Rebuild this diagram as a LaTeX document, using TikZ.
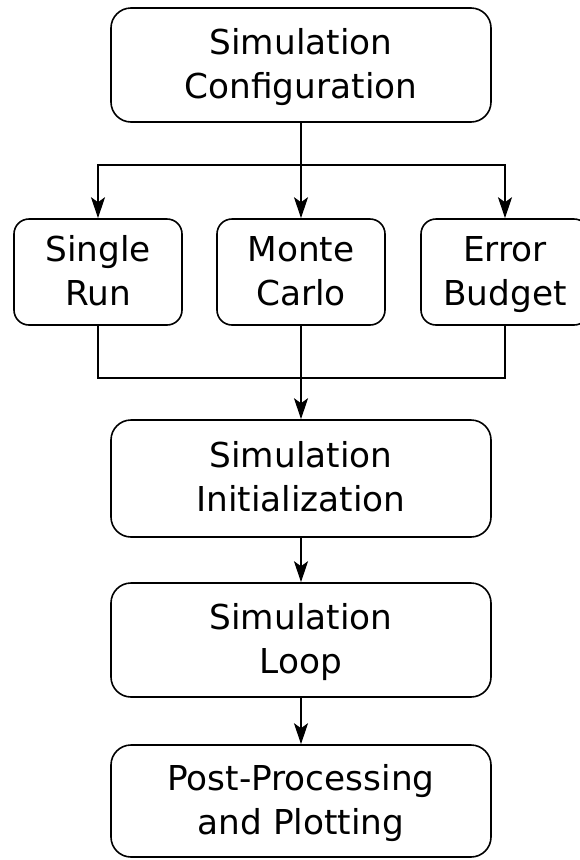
\documentclass[tikz,border=0pt]{standalone}
\usepackage{fontspec}
\setmainfont{DejaVu Sans}
\usetikzlibrary{arrows.meta}
% one text line of fixed height and depth, so every label sits alike
\newcommand\lbl[1]{\rule[-0.25em]{0pt}{1.15em}#1}
\begin{document}
\begin{tikzpicture}[x=1pt,y=-1pt,
  box/.style={draw, line width=1.6pt, rounded corners=20pt, minimum width=380pt,
    minimum height=114pt, align=center, inner sep=0pt,
    font=\fontsize{34.3}{44}\selectfont},
  choice/.style={box, rounded corners=15pt, minimum width=168pt, minimum height=106pt},
  link/.style={line width=1.2pt},
  flow/.style={link, -{Stealth[length=21pt,width=14pt,inset=5pt]}}]
\clip (0,0) rectangle (580,860);
\path[use as bounding box] (0,0) rectangle (580,860);

% main stages
\node[box] (cfg) at (301,65) {\lbl{Simulation}\\\lbl{Configuration}};
\node[choice] (single) at (98,272) {\lbl{Single}\\\lbl{Run}};
\node[choice] (monte) at (301,272) {\lbl{Monte}\\\lbl{Carlo}};
\node[choice] (error) at (505,272) {\lbl{Error}\\\lbl{Budget}};
\node[box, minimum height=117pt] (init) at (301,478.5) {\lbl{Simulation}\\\lbl{Initialization}};
\node[box] (loop) at (301,640) {\lbl{Simulation}\\\lbl{Loop}};
\node[box, minimum height=112pt] (post) at (301,801) {\lbl{Post-Processing}\\\lbl{and Plotting}};

% branch and join points
\coordinate (split) at (301,165);
\coordinate (merge) at (301,378);

\draw[link] (cfg.south) -- (split);
\draw[flow] (split) -| (single.north);
\draw[flow] (split) -- (monte.north);
\draw[flow] (split) -| (error.north);

\draw[link] (single.south) |- (merge);
\draw[link] (error.south) |- (merge);
\draw[flow] (monte.south) -- (init.north);

\draw[flow] (init.south) -- (loop.north);
\draw[flow] (loop.south) -- (post.north);
\end{tikzpicture}
\end{document}
